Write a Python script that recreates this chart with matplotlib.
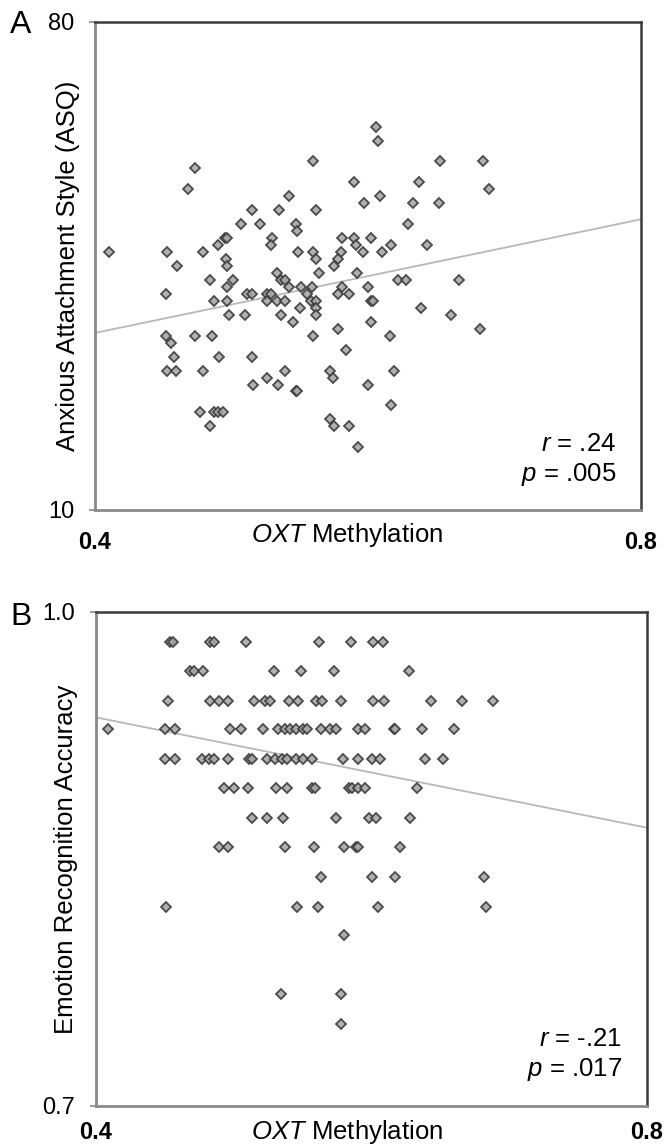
import matplotlib
matplotlib.use("Agg")
import matplotlib.pyplot as plt

plt.rcParams["font.family"] = ["Liberation Sans", "DejaVu Sans"]
plt.rcParams["mathtext.fontset"] = "custom"
plt.rcParams["mathtext.rm"] = "Liberation Sans"
plt.rcParams["mathtext.it"] = "Liberation Sans:italic"

# Panel A: OXT methylation vs anxious attachment (ASQ)
a_meth = [
    0.560, 0.473, 0.468, 0.542, 0.515, 0.535, 0.562, 0.507, 0.521, 0.547,
    0.548, 0.495, 0.497, 0.490, 0.530, 0.529, 0.410, 0.453, 0.479, 0.496,
    0.497, 0.460, 0.549, 0.560, 0.562, 0.580, 0.578, 0.575, 0.564, 0.533,
    0.536, 0.539, 0.542, 0.484, 0.501, 0.497, 0.452, 0.511, 0.515, 0.526,
    0.529, 0.487, 0.497, 0.526, 0.533, 0.539, 0.551, 0.559, 0.555, 0.558,
    0.562, 0.562, 0.550, 0.581, 0.578, 0.586, 0.498, 0.510, 0.536, 0.562,
    0.545, 0.578, 0.560,
    0.606, 0.607, 0.653, 0.684, 0.590, 0.637, 0.689, 0.609, 0.597, 0.633,
    0.652, 0.629, 0.581, 0.590, 0.602, 0.591, 0.596, 0.610, 0.617, 0.643,
    0.592, 0.600, 0.622, 0.628, 0.667,
    0.602, 0.604, 0.639, 0.661, 0.602, 0.616, 0.682, 0.584, 0.619, 0.600,
    0.617, 0.593,
    0.452, 0.456, 0.473, 0.486, 0.458, 0.491, 0.515, 0.453, 0.459, 0.479,
    0.539, 0.526, 0.516, 0.534, 0.547, 0.548, 0.572, 0.574, 0.477, 0.487,
    0.490, 0.494, 0.484, 0.572, 0.575, 0.586,
]
a_asq = [
    60, 59, 56, 55, 53, 53, 53, 51, 51, 51,
    50, 49, 49, 48, 49, 48, 47, 47, 47, 46,
    45, 45, 47, 47, 46, 47, 46, 45, 44, 44,
    43, 43, 42, 43, 43, 42, 41, 41, 41, 41,
    41, 40, 40, 40, 40, 40, 42, 42, 41, 40,
    40, 39, 39, 42, 41, 41, 38, 38, 38, 38,
    37, 36, 35,
    65, 63, 60, 60, 57, 57, 56, 55, 54, 54,
    54, 51, 49, 49, 49, 48, 47, 47, 48, 48,
    44, 42, 43, 43, 43,
    40, 40, 39, 38, 37, 35, 36, 33, 30, 28,
    25, 19,
    35, 34, 35, 35, 32, 32, 32, 30, 30, 30,
    30, 29, 28, 28, 27, 27, 30, 29, 24, 24,
    24, 24, 22, 23, 22, 22,
]
a_fit_x = [0.4, 0.8]
a_fit_y = [35.4, 51.7]

# Panel B: OXT methylation vs emotion recognition accuracy
b_meth = [
    0.454, 0.456, 0.483, 0.486, 0.509, 0.562, 0.585, 0.601, 0.608,
    0.468, 0.471, 0.478, 0.529, 0.549, 0.573, 0.627,
    0.452, 0.483, 0.489, 0.496, 0.515, 0.523, 0.526, 0.540, 0.547, 0.560,
    0.564, 0.578, 0.601, 0.609, 0.643, 0.666, 0.688,
    0.409, 0.450, 0.457, 0.497, 0.505, 0.521, 0.532, 0.537, 0.541, 0.545,
    0.550, 0.553, 0.563, 0.570, 0.574, 0.590, 0.595, 0.616, 0.617, 0.637,
    0.660,
    0.450, 0.457, 0.477, 0.482, 0.486, 0.496, 0.511, 0.513, 0.524, 0.530,
    0.535, 0.539, 0.545, 0.550, 0.557, 0.579, 0.590, 0.600, 0.606, 0.639,
    0.652,
    0.493, 0.500, 0.510, 0.531, 0.539, 0.557, 0.559, 0.584, 0.586, 0.590,
    0.595, 0.633,
    0.513, 0.524, 0.536, 0.574, 0.598, 0.603, 0.628,
    0.489, 0.496, 0.537, 0.558, 0.580, 0.589, 0.590, 0.621,
    0.563, 0.600, 0.617, 0.682,
    0.451, 0.546, 0.561, 0.605, 0.683,
    0.580,
    0.534, 0.578,
    0.578,
]
b_acc = (
    [0.982] * 9 + [0.964] * 7 + [0.946] * 17 + [0.929] * 21 + [0.911] * 21
    + [0.893] * 12 + [0.875] * 7 + [0.857] * 8 + [0.839] * 4 + [0.821] * 5
    + [0.804] * 1 + [0.768] * 2 + [0.750] * 1
)
b_fit_x = [0.4, 0.8]
b_fit_y = [0.936, 0.869]

W, H = 665, 1147
fig = plt.figure(figsize=(W / 100, H / 100), dpi=100)


def panel(rect, xs, ys, fit_x, fit_y, ylim, ytick_labels, ylabel,
          r_txt, p_txt, letter, letter_y, ylab_x, xlab_x, xpad):
    ax = fig.add_axes(rect)
    ax.plot(fit_x, fit_y, color="#b8b8b8", lw=1.3, zorder=1)
    ax.plot(xs, ys, ls="none", marker="D", ms=5.6, mfc="#a8a8a8",
            mec="#3c3c3c", mew=1.3, alpha=0.9, zorder=2)
    ax.set_xlim(0.4, 0.8)
    ax.set_ylim(*ylim)
    ax.set_xticks([0.4, 0.8])
    ax.set_xticklabels(["0.4", "0.8"], fontsize=17, fontweight="bold")
    ax.set_yticks(list(ylim))
    ax.set_yticklabels(ytick_labels, fontsize=17)
    ax.tick_params(axis="x", length=0, pad=xpad)
    ax.tick_params(axis="y", length=4, width=1.2, color="#888888", pad=11)
    for side in ["top", "right"]:
        ax.spines[side].set_color("#3a3a3a")
        ax.spines[side].set_linewidth(1.8)
    for side in ["left", "bottom"]:
        ax.spines[side].set_color("#8a8a8a")
        ax.spines[side].set_linewidth(2.0)
    ax.text(ylab_x, 0.5, ylabel, transform=ax.transAxes, rotation=90,
            ha="center", va="center", fontsize=18.5)
    ax.text(xlab_x, -0.052, r"$\mathit{OXT}$ Methylation",
            transform=ax.transAxes, ha="center", va="center", fontsize=18.5)
    ax.text(0.955, 0.135, r_txt, transform=ax.transAxes, ha="right",
            va="center", fontsize=18.5)
    ax.text(0.955, 0.073, p_txt, transform=ax.transAxes, ha="right",
            va="center", fontsize=18.5)
    fig.text(21 / W, letter_y, letter, ha="center", va="center", fontsize=23)
    return ax


panel([95 / W, 637 / H, 546 / W, 488 / H], a_meth, a_asq, a_fit_x, a_fit_y,
      (10, 80), ["10", "80"], "Anxious Attachment Style (ASQ)",
      r"$\mathit{r}$ = .24", r"$\mathit{p}$ = .005", "A", 1 - 25 / H,
      -0.05, 0.462, 15)
panel([96 / W, 41 / H, 551 / W, 494 / H], b_meth, b_acc, b_fit_x, b_fit_y,
      (0.7, 1.0), ["0.7", "1.0"], "Emotion Recognition Accuracy",
      r"$\mathit{r}$ = -.21", r"$\mathit{p}$ = .017", "B", 1 - 617 / H,
      -0.054, 0.456, 11)

fig.savefig("out.png", dpi=100)
